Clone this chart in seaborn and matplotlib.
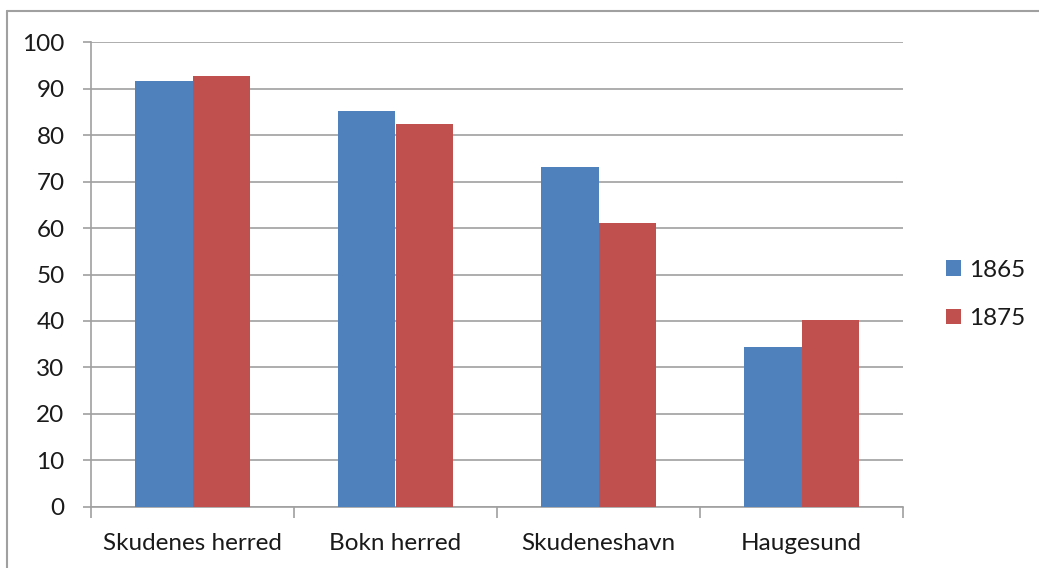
import numpy as np
import pandas as pd
import matplotlib
matplotlib.use("Agg")
import matplotlib.pyplot as plt
import seaborn as sns
from matplotlib.lines import Line2D

places = ["Skudenes herred", "Bokn herred", "Skudeneshavn", "Haugesund"]
years = ["1865", "1875"]
v1865 = [91.7, 85.2, 73.1, 34.4]
v1875 = [92.7, 82.4, 61.1, 40.2]

df = pd.DataFrame({
    "place": places * 2,
    "year": [years[0]] * 4 + [years[1]] * 4,
    "value": v1865 + v1875,
})

sns.set_theme(style="white")
plt.rcParams["font.family"] = ["Lato", "DejaVu Sans"]

fig = plt.figure(figsize=(10.39, 5.68), dpi=100)
ax = fig.add_axes([91 / 1039, 1 - 506.7 / 568, (903 - 91) / 1039, (506.7 - 42.3) / 568])

sns.barplot(data=df, x="place", y="value", hue="year", order=places,
            palette=["#4F81BD", "#C0504D"], width=0.57, saturation=1,
            ax=ax, zorder=3)
for p in ax.patches:
    p.set_edgecolor("none")

ax.set_xlim(-0.5, 3.5)
ax.set_ylim(0, 100)
ax.set_yticks(range(0, 101, 10))
ax.yaxis.grid(True, color="#a0a0a0", linewidth=1.2, zorder=0)
ax.set_axisbelow(True)
ax.set_xlabel("")
ax.set_ylabel("")

for s in ["top", "right"]:
    ax.spines[s].set_visible(False)
for s in ["left", "bottom"]:
    ax.spines[s].set_color("#a0a0a0")
    ax.spines[s].set_linewidth(1.2)

fs = 17.5
ax.tick_params(axis="y", which="major", length=6, color="#a0a0a0", width=1.2,
               labelsize=fs, labelcolor="#1a1a1a", pad=13, left=True)
ax.tick_params(axis="x", which="major", length=0, labelsize=fs,
               labelcolor="#1a1a1a", pad=19)
ax.set_xticks(np.arange(-0.5, 3.6, 1), minor=True)
ax.tick_params(axis="x", which="minor", length=8, color="#a0a0a0", width=1.2,
               bottom=True)

leg = ax.legend(loc="center left", bbox_to_anchor=((946 - 91) / 812, 0.457),
                frameon=False, fontsize=fs, borderpad=0, borderaxespad=0,
                handlelength=0.62, handleheight=0.62,
                handletextpad=0.33, labelspacing=1.12, title=None)
for t in leg.get_texts():
    t.set_color("#1a1a1a")

# chart-area border, cut off on the right and bottom
fig.lines.append(Line2D([7 / 1039, 7 / 1039], [0, 1 - 11 / 568], transform=fig.transFigure,
                        color="#a0a0a0", linewidth=1.5))
fig.lines.append(Line2D([7 / 1039, 1], [1 - 11 / 568, 1 - 11 / 568], transform=fig.transFigure,
                        color="#a0a0a0", linewidth=1.5))

fig.savefig("out.png", dpi=100)
